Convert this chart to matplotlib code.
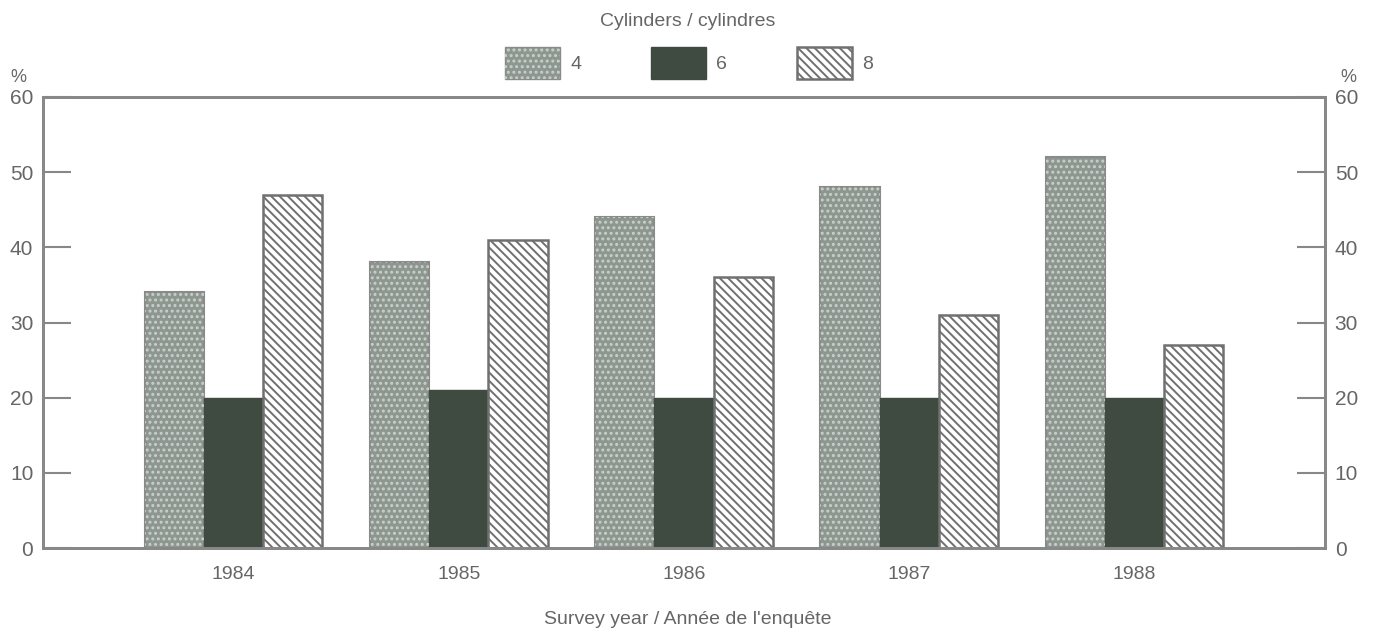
import numpy as np
import matplotlib
matplotlib.use("Agg")
import matplotlib.pyplot as plt
from matplotlib.patches import Patch
from matplotlib.legend_handler import HandlerTuple

plt.rcParams['font.family'] = ['Liberation Sans', 'DejaVu Sans']
plt.rcParams['hatch.linewidth'] = 1.4

years = ["1984", "1985", "1986", "1987", "1988"]
cyl4 = [34, 38, 44, 48, 52]
cyl6 = [20, 21, 20, 20, 20]
cyl8 = [47, 41, 36, 31, 27]

c4 = "#8d978f"
c6 = "#3f4b40"
grey = "#707070"
txt = "#666666"

fig = plt.figure(figsize=(13.76, 6.3), dpi=100)
ax = fig.add_axes([43 / 1376, 1 - 548 / 630, 1282 / 1376, 451 / 630])

x = np.arange(len(years))
w = 0.263

ax.bar(x - w, cyl4, w, color=c4, edgecolor="#8a8a8a", linewidth=1.5, zorder=2)
ax.bar(x - w, cyl4, w, color="none", edgecolor="#c9cfca", hatch="...", linewidth=0, zorder=3)
ax.bar(x, cyl6, w, color=c6, edgecolor=c6, linewidth=1, zorder=2)
ax.bar(x + w, cyl8, w, color="white", edgecolor=grey, hatch="\\\\\\\\", linewidth=1.8, zorder=2)

ax.set_xlim(-0.845, 4.845)
ax.set_ylim(0, 60)
ax.set_yticks(range(0, 61, 10))
ax.set_xticks(x)
ax.set_xticklabels(years)

for s in ax.spines.values():
    s.set_color("#888888")
    s.set_linewidth(2)

ax.tick_params(axis="y", direction="in", length=20, width=1.5, color="#888888",
               labelsize=15, labelcolor=txt, pad=7)
ax.tick_params(axis="x", length=0, labelsize=14, labelcolor=txt, pad=13)

ax2 = ax.twinx()
ax2.set_ylim(0, 60)
ax2.set_yticks(range(0, 61, 10))
ax2.tick_params(axis="y", direction="in", length=20, width=1.5, color="#888888",
                labelsize=15, labelcolor=txt, pad=7)
for s in ax2.spines.values():
    s.set_color("#888888")
    s.set_linewidth(2)

fig.text(18 / 1376, 1 - 77 / 630, "%", fontsize=13, color=txt, ha="center", va="center")
fig.text(1348 / 1376, 1 - 77 / 630, "%", fontsize=13, color=txt, ha="center", va="center")

fig.text(0.5, 1 - 619 / 630, "Survey year / Année de l'enquête", fontsize=14,
         color=txt, ha="center", va="center")
fig.text(688 / 1376, 1 - 22 / 630, "Cylinders / cylindres", fontsize=14,
         color=txt, ha="center", va="center")

handles = [
    (Patch(facecolor=c4, edgecolor="#8a8a8a"),
     Patch(facecolor="none", edgecolor="#c9cfca", hatch="...", linewidth=0)),
    Patch(facecolor=c6, edgecolor=c6),
    Patch(facecolor="white", edgecolor=grey, hatch="\\\\\\\\", linewidth=1.8),
]
leg = fig.legend(handles, ["4", "6", "8"], loc="center",
                 bbox_to_anchor=(689 / 1376, 1 - 63 / 630), ncol=3, frameon=False,
                 fontsize=14, handlelength=2.85, handleheight=2.2, handletextpad=0.5,
                 columnspacing=3.6, borderpad=0,
                 handler_map={tuple: HandlerTuple(ndivide=1)})
for t in leg.get_texts():
    t.set_color(txt)

fig.savefig("out.png", dpi=100)
